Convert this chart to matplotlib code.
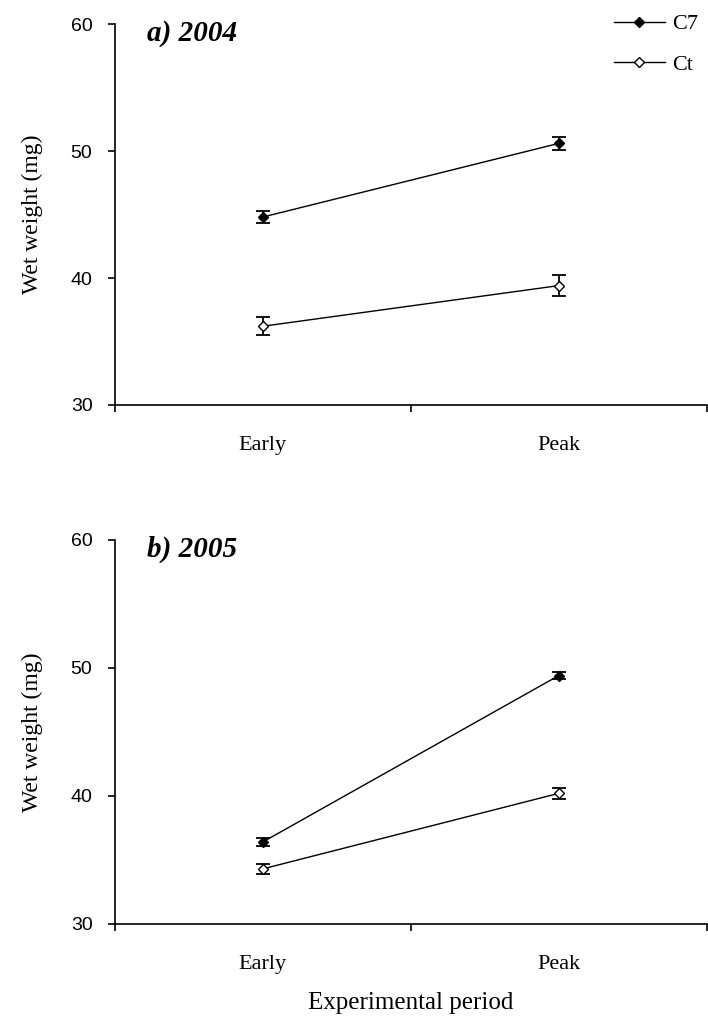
import numpy as np
import matplotlib.pyplot as plt
from matplotlib.lines import Line2D

periods = ["Early", "Peak"]
years = ["a) 2004", "b) 2005"]

# wet weight (mg), mean and error, per year
c7_mean = [[44.8, 50.6], [36.4, 49.4]]
c7_err = [[0.5, 0.5], [0.3, 0.3]]
ct_mean = [[36.2, 39.4], [34.3, 40.2]]
ct_err = [[0.7, 0.8], [0.4, 0.45]]

plt.rcParams['font.family'] = ['Liberation Serif', 'DejaVu Serif']

fig = plt.figure(figsize=(7.08, 10.24), dpi=100)
boxes = [[0.162, 0.6045, 0.836, 0.372], [0.162, 0.0977, 0.836, 0.375]]

x = np.array([0.5, 1.5])
for i in range(2):
	ax = fig.add_axes(boxes[i])
	ax.errorbar(x, c7_mean[i], yerr=c7_err[i], color='black', lw=1, marker='D',
		ms=5.5, mfc='black', mec='black', capsize=5, capthick=1.3, elinewidth=1.3)
	ax.errorbar(x, ct_mean[i], yerr=ct_err[i], color='black', lw=1, marker='D',
		ms=5.5, mfc='white', mec='black', capsize=5, capthick=1.3, elinewidth=1.3)

	ax.set_xlim(0, 2)
	ax.set_ylim(30, 60)
	ax.set_yticks([30, 40, 50, 60])
	ax.set_yticklabels(['30', '40', '50', '60'], family='Liberation Sans', fontsize=14)
	ax.set_xticks([0, 1, 2])
	ax.set_xticklabels([])
	ax.set_xticks(x, minor=True)
	ax.set_xticklabels(periods, minor=True, fontsize=16)
	ax.tick_params(axis='x', which='minor', length=0, pad=22)
	ax.tick_params(axis='both', which='major', length=5, width=1.2, direction='out')
	ax.tick_params(axis='y', which='major', pad=11)
	for s in ['top', 'right']:
		ax.spines[s].set_visible(False)
	for s in ['left', 'bottom']:
		ax.spines[s].set_linewidth(1.2)
	ax.set_ylabel('Wet weight (mg)', fontsize=17, labelpad=20)
	ax.text(0.055, 1.01, years[i], transform=ax.transAxes, fontsize=21,
		fontweight='bold', fontstyle='italic', va='top', ha='left')
	if i == 0:
		handles = [Line2D([], [], color='black', lw=1, marker='D', ms=5, mfc='black', mec='black'),
			Line2D([], [], color='black', lw=1, marker='D', ms=5, mfc='white', mec='black')]
		ax.legend(handles, ['C7', 'Ct'], loc='upper right', bbox_to_anchor=(1.0, 1.05),
			frameon=False, fontsize=16, handlelength=2.3, handletextpad=0.3,
			labelspacing=0.9, borderaxespad=0)
	else:
		ax.set_xlabel('Experimental period', fontsize=18, labelpad=13)

fig.savefig('out.png', dpi=100)
